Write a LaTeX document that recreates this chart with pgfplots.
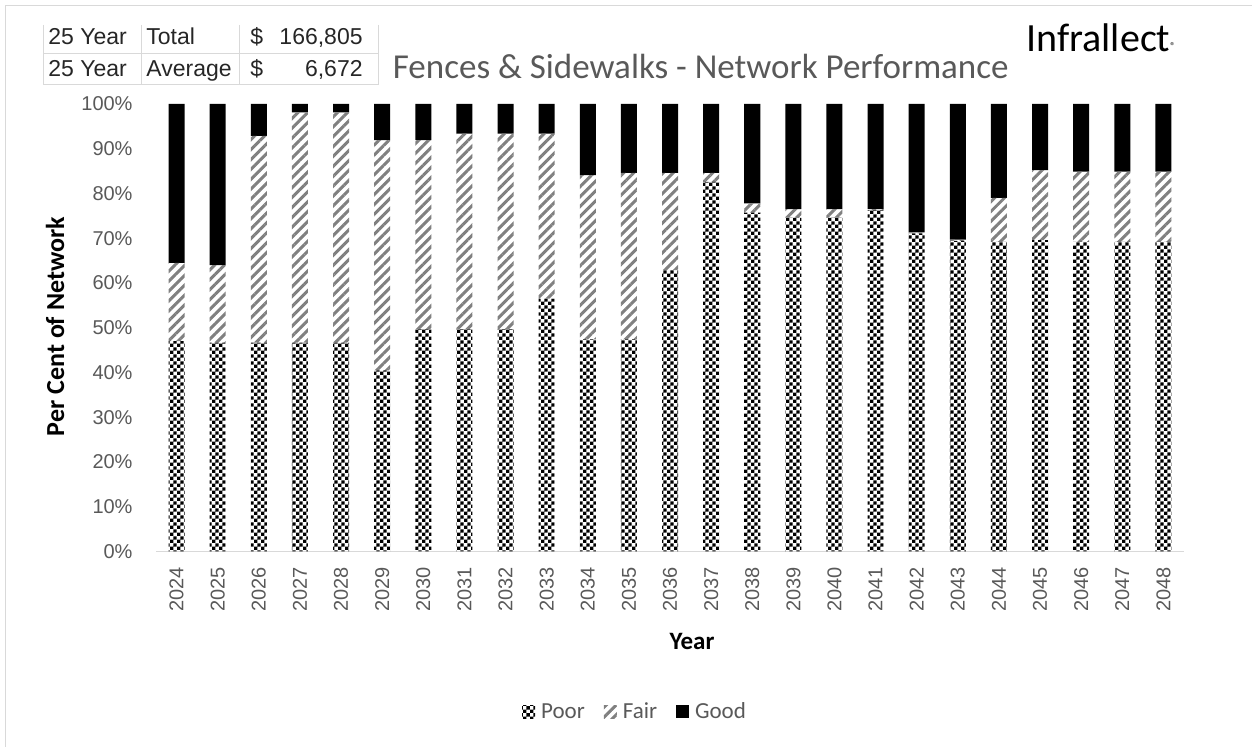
\documentclass[border=0pt]{standalone}
\usepackage{fontspec}
\usepackage{pgfplots}
\pgfplotsset{compat=1.18}
\usepackage{pgfplotstable}
\usetikzlibrary{patterns.meta}
\setmainfont{Carlito}
\newfontfamily\arial{Liberation Sans}
\definecolor{txtgray}{RGB}{89,89,89}
\definecolor{linegray}{RGB}{217,217,217}
\definecolor{stripegray}{RGB}{128,128,128}

\pgfdeclarepattern{
  name=checkfine,
  type=uncolored,
  bottom left={\pgfpoint{0pt}{0pt}},
  top right={\pgfpoint{3.4pt}{3.4pt}},
  tile size={\pgfpoint{3.4pt}{3.4pt}},
  code={
    \pgfpathrectangle{\pgfpoint{0pt}{0pt}}{\pgfpoint{1.7pt}{1.7pt}}
    \pgfpathrectangle{\pgfpoint{1.7pt}{1.7pt}}{\pgfpoint{1.7pt}{1.7pt}}
    \pgfusepath{fill}
  }
}

\pgfplotstableread{
Year Poor Fair Good
2024 47.0 17.5 35.5
2025 46.7 17.3 36.0
2026 46.7 46.2 7.1
2027 46.7 51.4 1.9
2028 46.7 51.4 1.9
2029 40.5 51.4 8.1
2030 49.7 42.2 8.1
2031 49.7 43.7 6.6
2032 49.7 43.7 6.6
2033 56.5 36.9 6.6
2034 47.4 36.7 15.9
2035 47.4 37.2 15.4
2036 62.9 21.7 15.4
2037 82.6 2.0 15.4
2038 75.7 2.1 22.2
2039 74.6 1.9 23.5
2040 74.6 1.9 23.5
2041 76.3 0.2 23.5
2042 71.1 0.2 28.7
2043 69.4 0.3 30.3
2044 69.2 9.8 21.0
2045 69.6 15.6 14.8
2046 69.2 15.7 15.1
2047 69.2 15.7 15.1
2048 69.2 15.7 15.1
}\data

\begin{document}
\begin{tikzpicture}[x=0.5pt,y=0.5pt]
\useasboundingbox (0,0) rectangle (1252,747);
% chart border (left and top visible)
\draw[linegray, line width=0.6pt] (5.5,0) -- (5.5,741.5) -- (1252,741.5);

% summary table
\begin{scope}[linegray, line width=0.5pt]
\draw (43,722) -- (43,662);
\draw (141,722) -- (141,662);
\draw (239,722) -- (239,662);
\draw (378,722) -- (378,662);
\draw (43,693) -- (378,693);
\draw (43,662) -- (378,662);
\end{scope}
\begin{scope}[every node/.style={inner sep=0pt, text=black!85, font=\arial\fontsize{11.5}{13}\selectfont}]
\node[anchor=base west] at (48,702) {25 Year};
\node[anchor=base west] at (146,702) {Total};
\node[anchor=base west] at (250,702) {\$};
\node[anchor=base east] at (363,702) {166,805};
\node[anchor=base west] at (48,670) {25 Year};
\node[anchor=base west] at (146,670) {Average};
\node[anchor=base west] at (250,670) {\$};
\node[anchor=base east] at (363,670) {6,672};
\end{scope}

% title
\node[anchor=base west, inner sep=0pt, text=txtgray, font=\fontsize{17.5}{20}\selectfont] at (392.5,668.7) {Fences \& Sidewalks - Network Performance};
% logo
\node[anchor=base west, inner sep=0pt, text=black, font=\fontsize{20}{22}\selectfont] at (1026,695.3) {Infrallect};
\node[anchor=base west, inner sep=0pt, text=black, font=\fontsize{5}{6}\selectfont] at (1170,697) {®};

% axis labels
\node[rotate=90, inner sep=0pt, font=\bfseries\fontsize{13}{15}\selectfont] at (55,420.5) {Per Cent of Network};
\node[inner sep=0pt, font=\bfseries\fontsize{12.5}{15}\selectfont] at (692,106) {Year};

\begin{axis}[
  at={(78pt,97.75pt)}, anchor=south west,
  scale only axis, width=514pt, height=223.75pt,
  ybar stacked, bar width=8pt,
  xmin=2023.5, xmax=2048.5, ymin=0, ymax=100,
  xtick={2024,2025,2026,2027,2028,2029,2030,2031,2032,2033,2034,2035,2036,2037,2038,2039,2040,2041,2042,2043,2044,2045,2046,2047,2048},
  xticklabels={2024,2025,2026,2027,2028,2029,2030,2031,2032,2033,2034,2035,2036,2037,2038,2039,2040,2041,2042,2043,2044,2045,2046,2047,2048},
  ytick={0,10,20,30,40,50,60,70,80,90,100},
  yticklabels={0\%,10\%,20\%,30\%,40\%,50\%,60\%,70\%,80\%,90\%,100\%},
  axis x line*=bottom, axis y line*=left,
  x axis line style={-, draw=linegray, line width=0.9pt},
  y axis line style={draw=none},
  major tick length=0pt,
  xtick style={draw=none}, ytick style={draw=none},
  ticklabel style={font=\arial\fontsize{10}{12}\selectfont, text=txtgray},
  xticklabel style={rotate=90, anchor=east},
  xticklabel shift=4.4pt,
  yticklabel shift=8.2pt,
  legend style={at={(0.465,-0.3587)}, anchor=center, draw=none, fill=none,
    font=\fontsize{11.5}{13}\selectfont, text=txtgray,
    nodes={text height=1.6ex, text depth=0.2ex, inner sep=0pt},
    /tikz/every odd column/.append style={column sep=3pt},
    /tikz/every even column/.append style={column sep=9.5pt}},
  legend columns=3,
  legend cell align=left,
  legend image code/.code={\path[#1,draw=none] (0pt,-3.0pt) rectangle (6.5pt,3.5pt);},
]
\addplot[draw=none, pattern=checkfine, pattern color=black] table[x=Year,y=Poor]{\data};
\addplot[draw=none, pattern={Lines[angle=45,distance=3.5pt,line width=1.5pt]}, pattern color=stripegray] table[x=Year,y=Fair]{\data};
\addplot[draw=none, fill=black] table[x=Year,y=Good]{\data};
\legend{Poor,Fair,Good}
\end{axis}
\end{tikzpicture}
\end{document}
